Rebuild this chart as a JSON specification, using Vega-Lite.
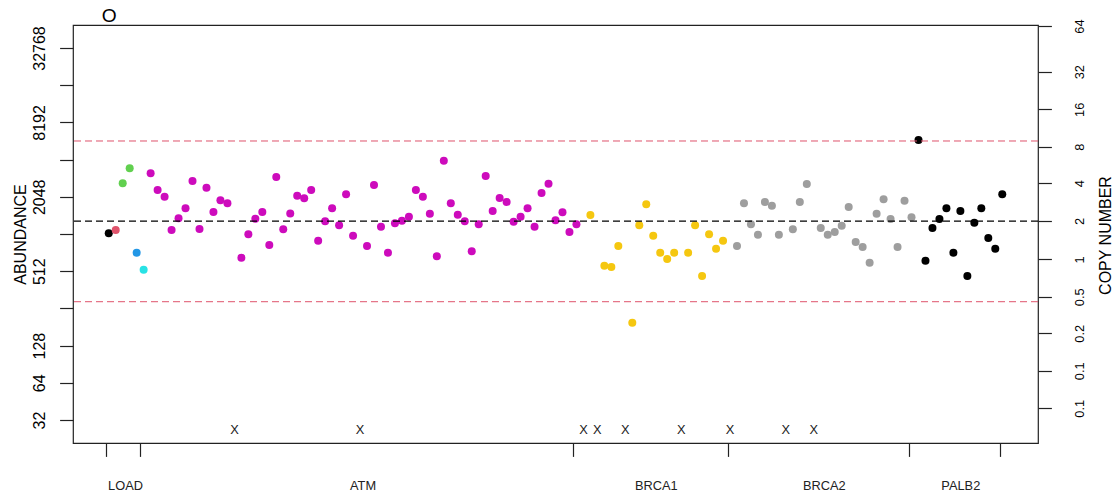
{
  "$schema": "https://vega.github.io/schema/vega-lite/v6.json",
  "width": 965,
  "height": 418,
  "autosize": {"type": "none"},
  "padding": {"left": 73, "top": 25, "right": 78, "bottom": 55},
  "background": "white",
  "config": {
    "view": {"stroke": "#222", "strokeWidth": 1.2},
    "font": "Liberation Sans",
    "axis": {"grid": false, "domain": false, "tickColor": "#222", "tickWidth": 1.2, "labelColor": "#000", "titleColor": "#000", "labelFont": "Liberation Sans", "titleFont": "Liberation Sans", "titleFontWeight": "normal"}
  },
  "title": {"text": "O", "anchor": "start", "frame": "group", "dx": 28.7, "offset": -7, "fontSize": 19.2, "fontWeight": "normal", "font": "Liberation Sans", "color": "#000"},
  "datasets": {
    "points": [
      {"i": 1, "gene": "LOAD", "col": "L1", "abundance": 1038},
      {"i": 2, "gene": "LOAD", "col": "L2", "abundance": 1104},
      {"i": 3, "gene": "LOAD", "col": "L3", "abundance": 2634},
      {"i": 4, "gene": "LOAD", "col": "L3", "abundance": 3483},
      {"i": 5, "gene": "LOAD", "col": "L4", "abundance": 722},
      {"i": 6, "gene": "LOAD", "col": "L5", "abundance": 526},
      {"i": 7, "gene": "ATM", "col": "ATM", "abundance": 3174},
      {"i": 8, "gene": "ATM", "col": "ATM", "abundance": 2325},
      {"i": 9, "gene": "ATM", "col": "ATM", "abundance": 2052},
      {"i": 10, "gene": "ATM", "col": "ATM", "abundance": 1103},
      {"i": 11, "gene": "ATM", "col": "ATM", "abundance": 1372},
      {"i": 12, "gene": "ATM", "col": "ATM", "abundance": 1653},
      {"i": 13, "gene": "ATM", "col": "ATM", "abundance": 2749},
      {"i": 14, "gene": "ATM", "col": "ATM", "abundance": 1124},
      {"i": 15, "gene": "ATM", "col": "ATM", "abundance": 2427},
      {"i": 16, "gene": "ATM", "col": "ATM", "abundance": 1543},
      {"i": 17, "gene": "ATM", "col": "ATM", "abundance": 1919},
      {"i": 18, "gene": "ATM", "col": "ATM", "abundance": 1814},
      {"i": 20, "gene": "ATM", "col": "ATM", "abundance": 658},
      {"i": 21, "gene": "ATM", "col": "ATM", "abundance": 1018},
      {"i": 22, "gene": "ATM", "col": "ATM", "abundance": 1362},
      {"i": 23, "gene": "ATM", "col": "ATM", "abundance": 1543},
      {"i": 24, "gene": "ATM", "col": "ATM", "abundance": 834},
      {"i": 25, "gene": "ATM", "col": "ATM", "abundance": 2962},
      {"i": 26, "gene": "ATM", "col": "ATM", "abundance": 1118},
      {"i": 27, "gene": "ATM", "col": "ATM", "abundance": 1500},
      {"i": 28, "gene": "ATM", "col": "ATM", "abundance": 2091},
      {"i": 29, "gene": "ATM", "col": "ATM", "abundance": 1992},
      {"i": 30, "gene": "ATM", "col": "ATM", "abundance": 2325},
      {"i": 31, "gene": "ATM", "col": "ATM", "abundance": 904},
      {"i": 32, "gene": "ATM", "col": "ATM", "abundance": 1297},
      {"i": 33, "gene": "ATM", "col": "ATM", "abundance": 1653},
      {"i": 34, "gene": "ATM", "col": "ATM", "abundance": 1204},
      {"i": 35, "gene": "ATM", "col": "ATM", "abundance": 2145},
      {"i": 36, "gene": "ATM", "col": "ATM", "abundance": 992},
      {"i": 38, "gene": "ATM", "col": "ATM", "abundance": 819},
      {"i": 39, "gene": "ATM", "col": "ATM", "abundance": 2551},
      {"i": 40, "gene": "ATM", "col": "ATM", "abundance": 1173},
      {"i": 41, "gene": "ATM", "col": "ATM", "abundance": 723},
      {"i": 42, "gene": "ATM", "col": "ATM", "abundance": 1250},
      {"i": 43, "gene": "ATM", "col": "ATM", "abundance": 1312},
      {"i": 44, "gene": "ATM", "col": "ATM", "abundance": 1413},
      {"i": 45, "gene": "ATM", "col": "ATM", "abundance": 2325},
      {"i": 46, "gene": "ATM", "col": "ATM", "abundance": 2052},
      {"i": 47, "gene": "ATM", "col": "ATM", "abundance": 1495},
      {"i": 48, "gene": "ATM", "col": "ATM", "abundance": 676},
      {"i": 49, "gene": "ATM", "col": "ATM", "abundance": 4012},
      {"i": 50, "gene": "ATM", "col": "ATM", "abundance": 1814},
      {"i": 51, "gene": "ATM", "col": "ATM", "abundance": 1467},
      {"i": 52, "gene": "ATM", "col": "ATM", "abundance": 1297},
      {"i": 53, "gene": "ATM", "col": "ATM", "abundance": 742},
      {"i": 54, "gene": "ATM", "col": "ATM", "abundance": 1227},
      {"i": 55, "gene": "ATM", "col": "ATM", "abundance": 3017},
      {"i": 56, "gene": "ATM", "col": "ATM", "abundance": 1572},
      {"i": 57, "gene": "ATM", "col": "ATM", "abundance": 2003},
      {"i": 58, "gene": "ATM", "col": "ATM", "abundance": 1859},
      {"i": 59, "gene": "ATM", "col": "ATM", "abundance": 1288},
      {"i": 60, "gene": "ATM", "col": "ATM", "abundance": 1413},
      {"i": 61, "gene": "ATM", "col": "ATM", "abundance": 1653},
      {"i": 62, "gene": "ATM", "col": "ATM", "abundance": 1173},
      {"i": 63, "gene": "ATM", "col": "ATM", "abundance": 2198},
      {"i": 64, "gene": "ATM", "col": "ATM", "abundance": 2614},
      {"i": 65, "gene": "ATM", "col": "ATM", "abundance": 1322},
      {"i": 66, "gene": "ATM", "col": "ATM", "abundance": 1534},
      {"i": 67, "gene": "ATM", "col": "ATM", "abundance": 1063},
      {"i": 68, "gene": "ATM", "col": "ATM", "abundance": 1227},
      {"i": 70, "gene": "BRCA1", "col": "BRCA1", "abundance": 1459},
      {"i": 72, "gene": "BRCA1", "col": "BRCA1", "abundance": 567},
      {"i": 73, "gene": "BRCA1", "col": "BRCA1", "abundance": 554},
      {"i": 74, "gene": "BRCA1", "col": "BRCA1", "abundance": 819},
      {"i": 76, "gene": "BRCA1", "col": "BRCA1", "abundance": 196},
      {"i": 77, "gene": "BRCA1", "col": "BRCA1", "abundance": 1204},
      {"i": 78, "gene": "BRCA1", "col": "BRCA1", "abundance": 1781},
      {"i": 79, "gene": "BRCA1", "col": "BRCA1", "abundance": 992},
      {"i": 80, "gene": "BRCA1", "col": "BRCA1", "abundance": 723},
      {"i": 81, "gene": "BRCA1", "col": "BRCA1", "abundance": 643},
      {"i": 82, "gene": "BRCA1", "col": "BRCA1", "abundance": 723},
      {"i": 84, "gene": "BRCA1", "col": "BRCA1", "abundance": 723},
      {"i": 85, "gene": "BRCA1", "col": "BRCA1", "abundance": 1204},
      {"i": 86, "gene": "BRCA1", "col": "BRCA1", "abundance": 468},
      {"i": 87, "gene": "BRCA1", "col": "BRCA1", "abundance": 1018},
      {"i": 88, "gene": "BRCA1", "col": "BRCA1", "abundance": 779},
      {"i": 89, "gene": "BRCA1", "col": "BRCA1", "abundance": 904},
      {"i": 91, "gene": "BRCA2", "col": "BRCA2", "abundance": 819},
      {"i": 92, "gene": "BRCA2", "col": "BRCA2", "abundance": 1814},
      {"i": 93, "gene": "BRCA2", "col": "BRCA2", "abundance": 1227},
      {"i": 94, "gene": "BRCA2", "col": "BRCA2", "abundance": 1011},
      {"i": 95, "gene": "BRCA2", "col": "BRCA2", "abundance": 1859},
      {"i": 96, "gene": "BRCA2", "col": "BRCA2", "abundance": 1735},
      {"i": 97, "gene": "BRCA2", "col": "BRCA2", "abundance": 1011},
      {"i": 99, "gene": "BRCA2", "col": "BRCA2", "abundance": 1118},
      {"i": 100, "gene": "BRCA2", "col": "BRCA2", "abundance": 1859},
      {"i": 101, "gene": "BRCA2", "col": "BRCA2", "abundance": 2599},
      {"i": 103, "gene": "BRCA2", "col": "BRCA2", "abundance": 1145},
      {"i": 104, "gene": "BRCA2", "col": "BRCA2", "abundance": 1011},
      {"i": 105, "gene": "BRCA2", "col": "BRCA2", "abundance": 1063},
      {"i": 106, "gene": "BRCA2", "col": "BRCA2", "abundance": 1195},
      {"i": 107, "gene": "BRCA2", "col": "BRCA2", "abundance": 1694},
      {"i": 108, "gene": "BRCA2", "col": "BRCA2", "abundance": 882},
      {"i": 109, "gene": "BRCA2", "col": "BRCA2", "abundance": 804},
      {"i": 110, "gene": "BRCA2", "col": "BRCA2", "abundance": 600},
      {"i": 111, "gene": "BRCA2", "col": "BRCA2", "abundance": 1495},
      {"i": 112, "gene": "BRCA2", "col": "BRCA2", "abundance": 1955},
      {"i": 113, "gene": "BRCA2", "col": "BRCA2", "abundance": 1354},
      {"i": 114, "gene": "BRCA2", "col": "BRCA2", "abundance": 804},
      {"i": 115, "gene": "BRCA2", "col": "BRCA2", "abundance": 1904},
      {"i": 116, "gene": "BRCA2", "col": "BRCA2", "abundance": 1398},
      {"i": 117, "gene": "PALB2", "col": "PALB2", "abundance": 5902},
      {"i": 118, "gene": "PALB2", "col": "PALB2", "abundance": 622},
      {"i": 119, "gene": "PALB2", "col": "PALB2", "abundance": 1145},
      {"i": 120, "gene": "PALB2", "col": "PALB2", "abundance": 1354},
      {"i": 121, "gene": "PALB2", "col": "PALB2", "abundance": 1653},
      {"i": 122, "gene": "PALB2", "col": "PALB2", "abundance": 723},
      {"i": 123, "gene": "PALB2", "col": "PALB2", "abundance": 1572},
      {"i": 124, "gene": "PALB2", "col": "PALB2", "abundance": 468},
      {"i": 125, "gene": "PALB2", "col": "PALB2", "abundance": 1264},
      {"i": 126, "gene": "PALB2", "col": "PALB2", "abundance": 1653},
      {"i": 127, "gene": "PALB2", "col": "PALB2", "abundance": 950},
      {"i": 128, "gene": "PALB2", "col": "PALB2", "abundance": 779},
      {"i": 129, "gene": "PALB2", "col": "PALB2", "abundance": 2145}
    ],
    "missing": [
      {"i": 19, "gene": "ATM"},
      {"i": 37, "gene": "ATM"},
      {"i": 69, "gene": "BRCA1"},
      {"i": 71, "gene": "BRCA1"},
      {"i": 75, "gene": "BRCA1"},
      {"i": 83, "gene": "BRCA1"},
      {"i": 90, "gene": "BRCA2"},
      {"i": 98, "gene": "BRCA2"},
      {"i": 102, "gene": "BRCA2"}
    ],
    "limits": [
      {"level": "upper", "value": 5793},
      {"level": "lower", "value": 290}
    ],
    "median": [
      {"level": "median", "value": 1304}
    ]
  },
  "layer": [
    {
      "data": {"name": "points"},
      "mark": {"type": "point", "filled": true, "opacity": 1, "size": 64, "strokeWidth": 0},
      "encoding": {
        "x": {
          "field": "i", "type": "quantitative",
          "scale": {"domain": [-4.12, 134.12], "nice": false, "zero": false},
          "axis": {
            "orient": "bottom", "title": null,
            "values": [0.57, 5.48, 67.55, 89.67, 115.68, 128.67, 3.33, 37.36, 79.36, 103.44, 122.99],
            "labelExpr": "['','','','','','','LOAD','ATM','BRCA1','BRCA2','PALB2'][indexof([0.57, 5.48, 67.55, 89.67, 115.68, 128.67, 3.33, 37.36, 79.36, 103.44, 122.99], datum.value)]",
            "tickSize": 13.4,
            "tickOpacity": {"condition": {"test": "datum.value == 3.33 || datum.value == 37.36 || datum.value == 79.36 || datum.value == 103.44 || datum.value == 122.99", "value": 0}, "value": 1},
            "labelFontSize": 12.8, "labelBaseline": "alphabetic", "labelAlign": "center",
            "labelPadding": 32.9, "labelOverlap": false, "labelFlush": false, "labelColor": "#222"
          }
        },
        "y": {
          "field": "abundance", "type": "quantitative",
          "scale": {"type": "log", "base": 2, "domain": [20.85, 50300], "nice": false, "zero": false},
          "axis": {
            "orient": "left", "title": "ABUNDANCE",
            "values": [32, 64, 128, 256, 512, 1024, 2048, 4096, 8192, 16384, 32768],
            "labelExpr": "indexof([256, 1024, 4096, 16384], datum.value) >= 0 ? '' : format(datum.value, 'd')",
            "tickSize": 13.4, "labelAngle": 270, "labelAlign": "center", "labelBaseline": "alphabetic",
            "labelPadding": 15, "labelFontSize": 16, "labelOverlap": false, "labelFlush": false,
            "titleFontSize": 16, "titleAngle": 270, "titleAlign": "center", "titleBaseline": "alphabetic",
            "titleX": -48, "titleY": 209
          }
        },
        "color": {
          "field": "col", "type": "nominal", "legend": null,
          "scale": {
            "domain": ["L1", "L2", "L3", "L4", "L5", "ATM", "BRCA1", "BRCA2", "PALB2"],
            "range": ["#000000", "#DF536B", "#61D04F", "#2297E6", "#28E2E5", "#CD0BBC", "#F5C710", "#9E9E9E", "#000000"]
          }
        }
      }
    },
    {
      "data": {"name": "missing"},
      "mark": {"type": "text", "text": "X", "fontSize": 12.8, "font": "Liberation Sans", "color": "#222", "baseline": "middle", "align": "center"},
      "encoding": {
        "x": {"field": "i", "type": "quantitative", "scale": {"domain": [-4.12, 134.12], "nice": false, "zero": false}},
        "y": {"datum": 26.6, "type": "quantitative", "scale": {"type": "log", "base": 2, "domain": [20.85, 50300], "nice": false, "zero": false}, "axis": null}
      }
    },
    {
      "data": {"name": "limits"},
      "mark": {"type": "rule", "stroke": "#DF536B", "strokeDash": [7, 4], "strokeWidth": 1},
      "encoding": {
        "y": {"field": "value", "type": "quantitative", "scale": {"type": "log", "base": 2, "domain": [20.85, 50300], "nice": false, "zero": false}, "axis": null}
      }
    },
    {
      "data": {"name": "median"},
      "mark": {"type": "rule", "stroke": "#000000", "strokeDash": [7, 4], "strokeWidth": 1.2},
      "encoding": {
        "y": {
          "field": "value", "type": "quantitative",
          "scale": {"type": "log", "base": 2, "domain": [20.85, 50300], "nice": false, "zero": false},
          "axis": {
            "orient": "right", "title": "COPY NUMBER",
            "values": [39.8, 80.1, 161, 318, 639, 1304, 2634, 5210, 10455, 21071, 49357],
            "labelExpr": "['0.1','0.1','0.2','0.5','1','2','4','8','16','32','64'][indexof([39.8, 80.1, 161, 318, 639, 1304, 2634, 5210, 10455, 21071, 49357], datum.value)]",
            "tickSize": 13.4, "labelAngle": 270, "labelAlign": "center", "labelBaseline": "top",
            "labelPadding": 22.3, "labelFontSize": 12.8, "labelOverlap": false, "labelFlush": false,
            "titleFontSize": 16, "titleAngle": 270, "titleAlign": "center", "titleBaseline": "alphabetic",
            "titleX": 72, "titleY": 210
          }
        }
      }
    }
  ],
  "resolve": {"axis": {"y": "independent"}}
}
